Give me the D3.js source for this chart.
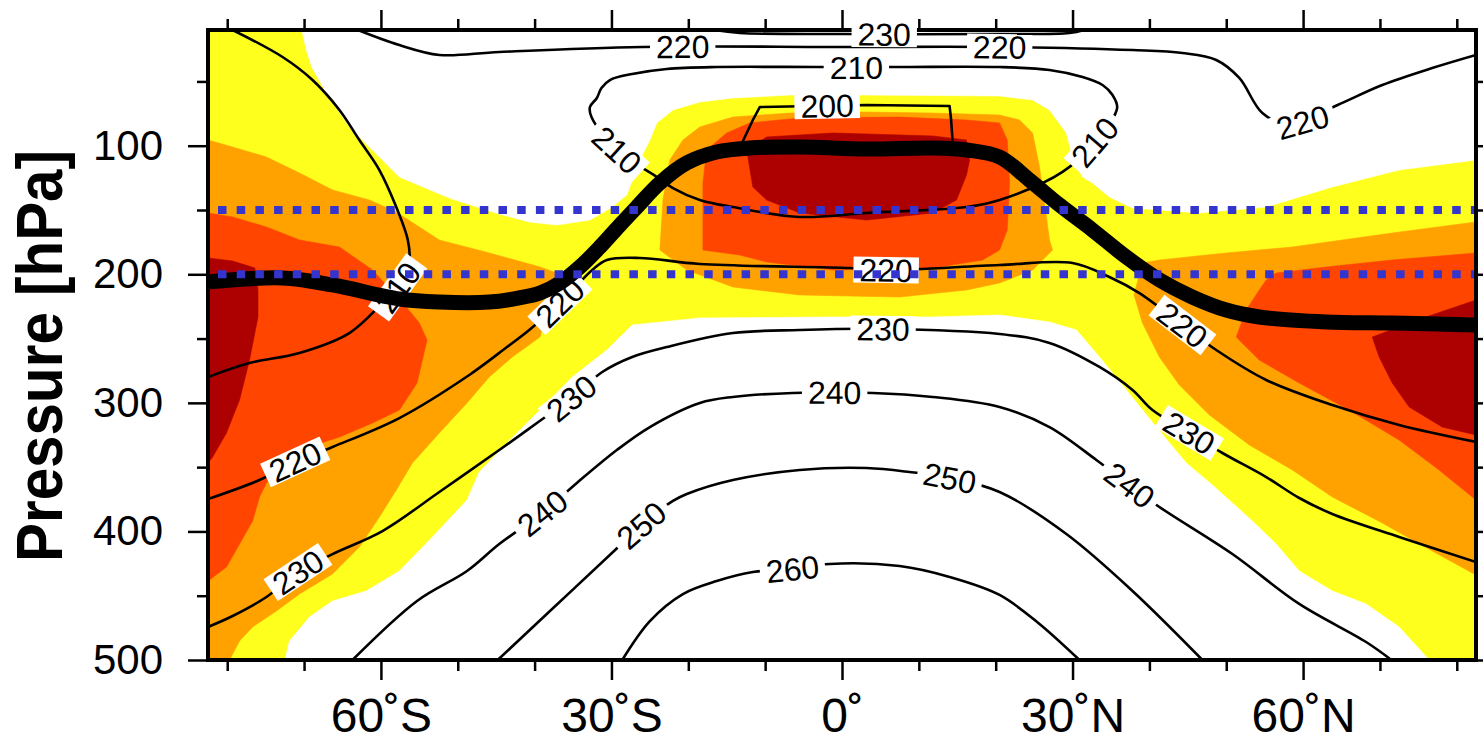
<!DOCTYPE html>
<html>
<head>
<meta charset="utf-8">
<script src="https://cdn.jsdelivr.net/npm/d3@7"></script>
<style>
  html, body { margin: 0; padding: 0; background: #ffffff; }
  svg { display: block; font-family: "Liberation Sans", Arial, Helvetica, sans-serif; }
</style>
</head>
<body>
<svg id="chart" width="1483" height="744"></svg>
<script>
// ---------- axes ----------
const latDomain = [-82.5, 82.5];          // degrees, south negative
const presDomain = [10, 500];              // hPa, top to bottom
const latMajorTicks = [-60, -30, 0, 30, 60];
const latMinorTicks = [-80, -70, -50, -40, -20, -10, 10, 20, 40, 50, 70, 80];
const latTickLabels = ["60˚S", "30˚S", "0˚", "30˚N", "60˚N"];
const presMajorTicks = [100, 200, 300, 400, 500];
const presMinorTicks = [50, 150, 250, 350, 450];
const referenceLevels = [150, 200];        // hPa, dotted lines

// ---------- shaded field, class boundaries as [lat, hPa] rings ----------
// class 1 (yellow) fills the panel; the rings below carve out class 0 and add classes 2-4
const whiteUpper = [[-70.3,10],[82.5,10],[82.5,111.1],[72.5,118.9],[63.8,132.1],[55.2,147.7],[46.5,152.3],[37.8,148.4],[34.8,139.9],[32.6,129.0],[31.3,124.3],[30.0,108.8],[29.2,90.1],[27.0,72.2],[24.8,64.4],[20.5,61.3],[3.2,60.6],[-6.8,60.6],[-14.2,62.9],[-18.5,66.0],[-22.0,72.2],[-24.1,82.3],[-25.0,95.6],[-26.3,111.1],[-27.3,126.7],[-28.0,138.3],[-29.9,147.7],[-32.8,157.8],[-37.1,161.7],[-40.7,159.3],[-44.6,153.1],[-51.1,140.7],[-57.6,124.3],[-61.1,103.3],[-64.1,85.4],[-67.1,59.0],[-69.0,38.8],[-69.7,25.6]];
const whiteLower = [[-72.5,500],[-71.9,485.2],[-69.3,466.6],[-66.3,454.1],[-61.9,446.3],[-57.6,430.8],[-53.3,404.3],[-48.8,375.6],[-47.2,353.8],[-43.6,331.2],[-39.3,305.6],[-35.1,279.9],[-30.6,258.9],[-27.3,239.4],[-18.5,234.0],[-1.2,233.2],[11.8,233.2],[20.5,231.7],[27.0,237.1],[30.5,243.3],[33.5,264.3],[37.0,290.0],[40.9,318.8],[44.8,346.8],[48.2,363.9],[53.4,391.9],[56.5,409.8],[59.5,430.8],[63.8,446.3],[68.2,456.4],[72.5,474.3],[76.4,500]];
const orangeLeft = [[-82.5,95.6],[-79.3,101.0],[-74.9,108.8],[-70.6,121.2],[-66.3,134.4],[-61.5,142.2],[-58.0,151.6],[-52.4,173.3],[-45.9,183.4],[-39.3,194.3],[-37.1,199.0],[-36.1,208.3],[-37.4,220.0],[-38.4,227.8],[-39.3,248.8],[-42.9,264.3],[-45.9,279.9],[-48.8,300.1],[-52.4,323.4],[-55.9,346.8],[-58.0,367.8],[-60.2,388.8],[-62.8,412.1],[-66.3,433.1],[-70.6,448.7],[-73.6,461.9],[-76.7,474.3],[-78.4,485.2],[-79.7,500],[-82.5,500]];
const orangeCenter = [[-23.7,181.1],[-23.3,142.2],[-22.4,111.1],[-20.7,95.6],[-18.5,85.4],[-14.2,77.7],[-6.8,74.6],[3.2,73.8],[11.8,74.6],[20.5,76.1],[23.1,80.0],[24.8,90.1],[25.7,116.6],[26.3,142.2],[27.0,173.3],[27.4,181.1],[24.8,196.7],[20.5,206.8],[16.2,212.2],[7.5,217.7],[-5.5,216.1],[-14.2,209.9],[-20.2,196.7]];
const orangeRight = [[39.1,191.2],[41.3,188.9],[50.0,183.4],[58.6,178.8],[71.6,167.9],[82.5,159.3],[82.5,433.9],[76.8,415.2],[70.3,393.4],[63.8,373.2],[58.6,352.2],[53.0,332.8],[47.8,309.4],[43.9,286.1],[41.3,264.3],[39.1,237.9],[38.0,216.1]];
const redLeft = [[-82.5,152.3],[-79.3,155.4],[-74.9,163.2],[-70.6,173.3],[-65.4,178.8],[-61.1,196.7],[-56.7,225.4],[-55.0,237.9],[-54.0,251.1],[-55.3,284.6],[-57.6,305.6],[-61.1,315.7],[-65.4,326.6],[-70.6,336.7],[-72.8,349.9],[-74.9,362.3],[-75.8,373.2],[-76.7,391.9],[-78.4,409.8],[-80.1,427.7],[-82.5,438.6]];
const redCenter = [[-18.1,181.1],[-18.1,129.0],[-17.6,103.3],[-15.0,90.1],[-12.0,82.3],[-5.5,78.4],[7.5,77.7],[16.2,80.0],[20.5,82.3],[21.5,95.6],[21.8,129.0],[21.5,165.6],[20.5,181.1],[18.3,188.9],[11.8,195.1],[-1.2,196.7],[-9.8,190.4],[-13.3,185.0]];
const redRight = [[82.5,183.4],[71.6,188.9],[63.0,194.3],[56.5,199.0],[55.2,204.4],[54.3,212.2],[52.6,227.8],[51.3,248.8],[54.3,266.7],[59.5,284.6],[66.0,305.6],[72.5,328.9],[77.7,352.2],[82.5,375.6]];
const darkLeft = [[-82.5,187.3],[-79.3,189.7],[-76.4,195.1],[-76.0,212.2],[-76.0,233.2],[-77.1,266.7],[-78.4,297.8],[-80.1,323.4],[-81.9,342.1],[-82.5,346.8]];
const darkCenter = [[-12.4,103.3],[-9.8,93.2],[-1.2,90.1],[11.8,92.4],[16.2,95.6],[16.6,111.1],[16.2,122.8],[14.9,142.2],[11.8,152.3],[3.2,157.8],[-5.5,152.3],[-9.8,142.2],[-11.6,132.1]];
const darkRight = [[82.5,220.0],[76.0,233.2],[69.0,248.8],[69.9,264.3],[71.6,284.6],[73.8,303.2],[78.1,318.8],[82.5,325.0]];

// ---------- temperature isolines (K), [lat, hPa] ----------
const iso200 = [[-13.3,101.8],[-12.4,90.1],[-11.6,80.0],[-10.7,69.9],[3.2,68.3],[14.0,69.1],[14.2,80.0],[14.4,97.9],[14.0,103.3],[0.1,104.9]];
const iso210Polar = [[-79.3,10],[-72.8,31.0],[-68.9,48.9],[-65.4,72.2],[-62.8,95.6],[-60.2,118.9],[-58.0,147.7],[-56.5,173.3],[-56.3,188.9],[-57.6,208.3],[-59.8,222.3],[-64.1,245.7],[-70.6,261.2],[-77.1,269.0],[-82.5,279.9]];
const iso210Tropics = [[-32.6,77.7],[-32.8,69.9],[-31.9,62.9],[-31.3,55.1],[-30.2,48.9],[-27.3,44.2],[-22.8,40.3],[-16.3,38.8],[-3.3,38.8],[7.1,38.8],[20.5,38.8],[27.0,41.1],[31.3,46.6],[33.9,52.8],[35.2,60.6],[35.8,70.7],[33.1,95.6],[28.7,120.4],[20.5,142.2],[16.2,147.7],[3.2,152.3],[-5.5,155.4],[-14.2,147.7],[-18.5,142.2],[-22.0,132.9],[-24.1,124.3],[-29.3,103.3]];
const iso220Upper = [[-63.0,10],[-57.6,21.7],[-52.4,29.4],[-44.6,27.1],[-26.0,23.2],[0.1,23.2],[20.5,23.2],[37.8,25.6],[44.3,27.9],[48.7,33.3],[51.7,47.3],[54.7,74.6],[58.2,83.9],[64.5,68.3],[70.3,52.8],[76.8,39.6],[82.5,29.4]];
const iso230Upper = [[-16.6,10],[-13.3,12.3],[0.1,13.1],[20.5,13.1],[29.6,12.3],[31.5,10]];
const iso220 = [[-82.5,374.8],[-75.8,360.0],[-71.2,346.0],[-66.3,334.3],[-57.6,311.8],[-48.5,278.3],[-43.6,256.6],[-40.7,243.3],[-36.7,222.3],[-32.5,196.7],[-30.6,188.9],[-26.3,187.3],[-18.5,192.0],[1.0,195.1],[5.8,196.7],[20.5,192.8],[30.0,191.2],[34.8,202.1],[38.7,214.6],[44.3,239.4],[48.7,258.9],[55.2,282.2],[63.8,301.7],[72.5,317.2],[82.5,330.4]];
const iso230 = [[-82.5,474.3],[-79.3,465.8],[-74.9,451.0],[-70.8,431.6],[-66.3,417.6],[-59.8,399.7],[-52.4,369.3],[-44.6,336.7],[-39.7,315.7],[-35.2,296.2],[-31.2,276.0],[-27.3,264.3],[-22.8,256.6],[-14.2,245.7],[-5.5,243.3],[5.3,242.5],[20.5,246.4],[27.0,253.4],[33.5,272.1],[37.8,290.0],[40.4,305.6],[45.2,323.4],[49.5,339.0],[55.2,357.7],[59.5,374.0],[63.8,386.4],[72.5,404.3],[82.5,423.8]];
const iso240 = [[-63.7,500],[-55.3,454.1],[-48.8,430.8],[-44.6,409.8],[-39.0,385.7],[-34.5,362.3],[-29.3,336.7],[-25.0,318.8],[-18.5,300.1],[-14.2,295.4],[-6.4,292.3],[4.0,292.3],[11.8,295.4],[20.5,303.2],[27.0,318.8],[33.1,344.4],[37.4,363.9],[41.3,381.0],[50.8,417.6],[59.5,456.4],[68.2,486.0],[71.5,500]];
const iso250 = [[-44.8,500],[-38.0,461.9],[-29.8,416.0],[-26.1,395.0],[-22.0,376.3],[-20.2,370.9],[-14.2,360.0],[-5.5,352.2],[3.2,350.7],[8.8,353.8],[14.0,358.4],[20.5,369.3],[29.2,402.0],[37.8,446.3],[46.9,500]];
const iso260 = [[-28.6,500],[-25.0,469.7],[-20.7,448.7],[-16.3,438.6],[-11.6,431.6],[-6.4,429.2],[-1.6,425.3],[7.5,426.9],[14.0,435.4],[20.5,449.4],[25.7,472.0],[30.9,500]];

// label anchors on each isoline, [lat, hPa]
const label200 = [[-1.9,69.1]];
const label210Polar = [[-57.8,210.0]];
const label210Tropics = [[1.9,38.8],[32.8,97.0],[-29.3,103.3]];
const label220Upper = [[-20.7,23.2],[20.5,23.2],[59.8,80.0]];
const label230Upper = [[5.5,13.1]];
const label220 = [[-71.2,346.0],[-36.7,222.3],[5.8,196.7],[44.3,239.4]];
const label230 = [[-70.8,431.6],[-35.2,296.2],[5.3,243.3],[45.2,323.4]];
const label240 = [[-39.0,385.7],[-1.0,293.9],[37.4,363.9]];
const label250 = [[-26.1,395.0],[14.0,358.4]];
const label260 = [[-6.4,429.2]];

// ---------- thermal tropopause, [lat, hPa] ----------
const tropopause = [[-82.5,206.0],[-72.8,202.9],[-66.3,208.3],[-57.6,219.2],[-52.4,221.6],[-45.9,221.6],[-42.0,218.4],[-39.3,214.6],[-36.7,206.8],[-34.1,194.3],[-31.5,178.8],[-28.9,161.7],[-26.7,147.7],[-23.7,129.0],[-20.2,113.4],[-16.3,104.9],[-12.0,101.8],[-5.5,101.0],[3.2,102.6],[11.8,101.8],[16.2,103.3],[20.5,108.8],[24.4,126.7],[28.3,146.1],[32.6,165.6],[37.0,186.6],[41.3,204.4],[45.6,217.7],[50.0,227.8],[54.3,233.2],[63.0,237.1],[71.6,237.9],[82.5,239.4]];

// ---------- drawing ----------
const plot = { left: 208, right: 1476, top: 30, bottom: 660 };
const x = d3.scaleLinear().domain(latDomain).range([plot.left, plot.right]);
const y = d3.scaleLinear().domain(presDomain).range([plot.top, plot.bottom]);

const svg = d3.select("#chart");
const defs = svg.append("defs");
defs.append("clipPath").attr("id", "panel")
  .append("rect").attr("x", plot.left).attr("y", plot.top)
  .attr("width", plot.right - plot.left).attr("height", plot.bottom - plot.top);
defs.append("clipPath").attr("id", "panelInner")
  .append("rect").attr("x", plot.left + 2).attr("y", plot.top + 2)
  .attr("width", plot.right - plot.left - 4).attr("height", plot.bottom - plot.top - 4);

const shadeColors = ["#ffffff", "#ffff1e", "#ffa200", "#ff4500", "#ad0000"];
const shadeLayers = [
  { level: 0, rings: [whiteUpper, whiteLower] },
  { level: 2, rings: [orangeLeft, orangeCenter, orangeRight] },
  { level: 3, rings: [redLeft, redCenter, redRight] },
  { level: 4, rings: [darkLeft, darkCenter, darkRight] }
];

const ringGen = d3.line().x(d => x(d[0])).y(d => y(d[1])).curve(d3.curveLinearClosed);

const shade = svg.append("g").attr("clip-path", "url(#panel)");
shade.append("rect")
  .attr("x", x(latDomain[0])).attr("y", y(presDomain[0]))
  .attr("width", x(latDomain[1]) - x(latDomain[0]))
  .attr("height", y(presDomain[1]) - y(presDomain[0]))
  .attr("fill", shadeColors[1]);
shadeLayers.forEach(layer => {
  shade.selectAll(null).data(layer.rings).join("path")
    .attr("d", ringGen)
    .attr("fill", shadeColors[layer.level])
    .attr("stroke", shadeColors[layer.level])
    .attr("stroke-width", 0.6);
});

// isolines
const isotherms = [
  { value: 200, points: iso200, labels: label200, closed: true, linear: true },
  { value: 210, points: iso210Polar, labels: label210Polar },
  { value: 210, points: iso210Tropics, labels: label210Tropics, closed: true },
  { value: 220, points: iso220Upper, labels: label220Upper },
  { value: 230, points: iso230Upper, labels: label230Upper },
  { value: 220, points: iso220, labels: label220 },
  { value: 230, points: iso230, labels: label230 },
  { value: 240, points: iso240, labels: label240 },
  { value: 250, points: iso250, labels: label250 },
  { value: 260, points: iso260, labels: label260 }
];

const isoLayer = svg.append("g").attr("clip-path", "url(#panel)");
isotherms.forEach(c => {
  let curve;
  if (c.closed) curve = c.linear ? d3.curveLinearClosed : d3.curveCatmullRomClosed.alpha(0.5);
  else curve = d3.curveCatmullRom.alpha(0.5);
  const gen = d3.line().x(d => x(d[0])).y(d => y(d[1])).curve(curve);
  c.node = isoLayer.append("path")
    .attr("d", gen(c.points))
    .attr("fill", "none")
    .attr("stroke", "#000")
    .attr("stroke-width", 2.6)
    .attr("stroke-linejoin", "round")
    .node();
});

// panel frame
svg.append("rect")
  .attr("x", plot.left).attr("y", plot.top)
  .attr("width", plot.right - plot.left).attr("height", plot.bottom - plot.top)
  .attr("fill", "none").attr("stroke", "#000").attr("stroke-width", 4);

// isoline labels in white boxes, oriented along the line
const labelLayer = svg.append("g");
isotherms.forEach(c => {
  const node = c.node;
  const L = node.getTotalLength();
  const samples = [];
  for (let s = 0; s <= L; s += 1) {
    const pt = node.getPointAtLength(s);
    samples.push([s, pt.x, pt.y]);
  }
  const at = s => {
    if (c.closed) s = ((s % L) + L) % L;
    else s = Math.max(0, Math.min(L, s));
    return node.getPointAtLength(s);
  };
  c.labels.forEach(([lat, p]) => {
    const ax = x(lat), ay = y(p);
    let best = samples[0], bd = Infinity;
    samples.forEach(q => {
      const d = (q[1] - ax) ** 2 + (q[2] - ay) ** 2;
      if (d < bd) { bd = d; best = q; }
    });
    const a = at(best[0] - 20), b = at(best[0] + 20);
    let ang = Math.atan2(b.y - a.y, b.x - a.x) * 180 / Math.PI;
    if (ang > 90) ang -= 180;
    if (ang < -90) ang += 180;
    const g = labelLayer.append("g")
      .attr("transform", `translate(${best[1]},${best[2]}) rotate(${ang})`);
    const rect = g.append("rect").attr("fill", "#fff");
    const t = g.append("text")
      .attr("text-anchor", "middle")
      .attr("dy", "0.36em")
      .attr("font-size", 32)
      .attr("fill", "#000")
      .text(String(c.value));
    const w = t.node().getComputedTextLength() + 12;
    const h = 26;
    rect.attr("x", -w / 2).attr("y", -h / 2).attr("width", w).attr("height", h);
  });
});

// tropopause
svg.append("g").attr("clip-path", "url(#panelInner)")
  .append("path")
  .attr("d", d3.line().x(d => x(d[0])).y(d => y(d[1])).curve(d3.curveCatmullRom.alpha(0.5))(tropopause))
  .attr("fill", "none")
  .attr("stroke", "#000")
  .attr("stroke-width", 15)
  .attr("stroke-linejoin", "round");

// reference pressure levels
svg.append("g").attr("clip-path", "url(#panelInner)")
  .selectAll("line").data(referenceLevels).join("line")
  .attr("x1", x(latDomain[0])).attr("x2", x(latDomain[1]))
  .attr("y1", d => y(d)).attr("y2", d => y(d))
  .attr("stroke", "#3434cf")
  .attr("stroke-width", 8)
  .attr("stroke-dasharray", "8.5 10.2")
  .attr("stroke-dashoffset", 8.7);

// ticks and tick labels
function styleAxis(g, fontSize) {
  g.select(".domain").remove();
  g.attr("font-family", null).attr("font-size", fontSize);
  g.selectAll(".tick line").attr("stroke", "#000").attr("stroke-width", 2.5);
  g.selectAll(".tick text").attr("fill", "#000");
}
const bottomG = svg.append("g").attr("transform", `translate(0,${plot.bottom})`);
bottomG.append("g").call(d3.axisBottom(x).tickValues(latMajorTicks).tickSize(20).tickPadding(18)
  .tickFormat((d, i) => latTickLabels[i])).call(g => styleAxis(g, 48));
bottomG.append("g").call(d3.axisBottom(x).tickValues(latMinorTicks).tickSize(11).tickFormat(""))
  .call(g => styleAxis(g, 48));

const topG = svg.append("g").attr("transform", `translate(0,${plot.top})`);
topG.append("g").call(d3.axisTop(x).tickValues(latMajorTicks).tickSize(20).tickFormat(""))
  .call(g => styleAxis(g, 48));
topG.append("g").call(d3.axisTop(x).tickValues(latMinorTicks).tickSize(11).tickFormat(""))
  .call(g => styleAxis(g, 48));

const leftG = svg.append("g").attr("transform", `translate(${plot.left},0)`);
leftG.append("g").call(d3.axisLeft(y).tickValues(presMajorTicks).tickSize(20).tickPadding(25)
  .tickFormat(d3.format("d"))).call(g => styleAxis(g, 42));
leftG.append("g").call(d3.axisLeft(y).tickValues(presMinorTicks).tickSize(11).tickFormat(""))
  .call(g => styleAxis(g, 42));

const rightG = svg.append("g").attr("transform", `translate(${plot.right},0)`);
rightG.append("g").call(d3.axisRight(y).tickValues(presMajorTicks).tickSize(20).tickFormat(""))
  .call(g => styleAxis(g, 42));
rightG.append("g").call(d3.axisRight(y).tickValues(presMinorTicks).tickSize(11).tickFormat(""))
  .call(g => styleAxis(g, 42));

// axis title
svg.append("text")
  .attr("transform", "translate(62,356) rotate(-90)")
  .attr("text-anchor", "middle")
  .attr("font-weight", "bold")
  .attr("font-size", 64)
  .attr("textLength", 412)
  .attr("lengthAdjust", "spacingAndGlyphs")
  .attr("fill", "#000")
  .text("Pressure [hPa]");
</script>
</body>
</html>
